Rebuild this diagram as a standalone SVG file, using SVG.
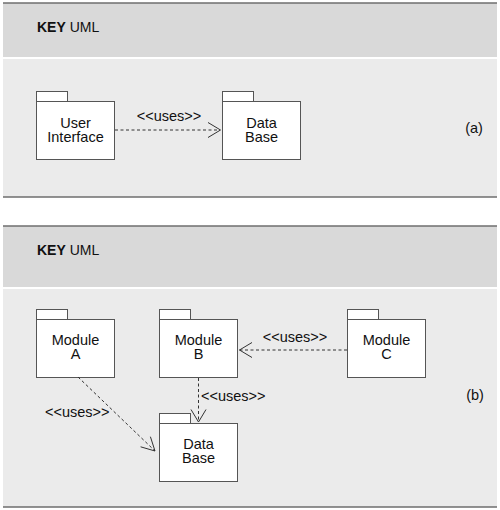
<svg xmlns="http://www.w3.org/2000/svg" width="500" height="510" viewBox="0 0 500 510">
  <style>
    .hdr { fill: #d9d9d9; }
    .body { fill: #ebebeb; }
    .edge { stroke: #6e6e6e; stroke-width: 1.5; }
    .pkg { fill: #ffffff; stroke: #555555; stroke-width: 1; }
    .lbl { font-family: "Liberation Sans", Arial, sans-serif; font-size: 14.5px; fill: #111111; text-anchor: middle; }
    .key { font-family: "Liberation Sans", Arial, sans-serif; font-size: 14px; fill: #111111; }
    .uses { font-family: "Liberation Sans", Arial, sans-serif; font-size: 14.5px; fill: #111111; }
    .dep { fill: none; stroke: #333333; stroke-width: 1; stroke-dasharray: 3 2.5; }
    .head { fill: none; stroke: #333333; stroke-width: 1; }
  </style>

  <rect x="0" y="0" width="500" height="510" fill="#ffffff"/>

  <!-- Panel (a) -->
  <g id="panel-a">
    <rect class="hdr" x="3" y="3" width="494" height="54"/>
    <rect class="body" x="3" y="59" width="494" height="138"/>
    <line class="edge" x1="3" y1="3" x2="497" y2="3"/>
    <line class="edge" x1="3" y1="197" x2="497" y2="197"/>
    <text class="key" x="37" y="32"><tspan font-weight="bold">KEY</tspan> UML</text>
    <text class="lbl" x="474" y="133" font-size="13">(a)</text>
  </g>

  <!-- Panel (b) -->
  <g id="panel-b">
    <rect class="hdr" x="3" y="226" width="494" height="61"/>
    <rect class="body" x="3" y="289" width="494" height="218"/>
    <line class="edge" x1="3" y1="226" x2="497" y2="226"/>
    <line class="edge" x1="3" y1="507" x2="497" y2="507"/>
    <text class="key" x="37" y="255"><tspan font-weight="bold">KEY</tspan> UML</text>
    <text class="lbl" x="475" y="400" font-size="13">(b)</text>
  </g>

  <!-- Nodes (a) -->
  <g id="user-interface">
    <rect class="pkg" x="36.5" y="91.5" width="31" height="10"/>
    <rect class="pkg" x="36.5" y="101.5" width="78" height="58"/>
    <text class="lbl" x="75.5" y="128">User</text>
    <text class="lbl" x="75.5" y="142">Interface</text>
  </g>
  <g id="data-base-a">
    <rect class="pkg" x="222.5" y="91.5" width="31" height="10"/>
    <rect class="pkg" x="222.5" y="101.5" width="78" height="58"/>
    <text class="lbl" x="261.5" y="128">Data</text>
    <text class="lbl" x="261.5" y="142">Base</text>
  </g>

  <!-- Nodes (b) -->
  <g id="module-a">
    <rect class="pkg" x="36.5" y="309.5" width="31" height="10"/>
    <rect class="pkg" x="36.5" y="319.5" width="78" height="58"/>
    <text class="lbl" x="75.5" y="345">Module</text>
    <text class="lbl" x="75.5" y="359">A</text>
  </g>
  <g id="module-b">
    <rect class="pkg" x="159.5" y="309.5" width="31" height="10"/>
    <rect class="pkg" x="159.5" y="319.5" width="78" height="58"/>
    <text class="lbl" x="198.5" y="345">Module</text>
    <text class="lbl" x="198.5" y="359">B</text>
  </g>
  <g id="module-c">
    <rect class="pkg" x="347.5" y="309.5" width="31" height="10"/>
    <rect class="pkg" x="347.5" y="319.5" width="78" height="58"/>
    <text class="lbl" x="386.5" y="345">Module</text>
    <text class="lbl" x="386.5" y="359">C</text>
  </g>
  <g id="data-base-b">
    <rect class="pkg" x="159.5" y="413.5" width="31" height="10"/>
    <rect class="pkg" x="159.5" y="423.5" width="78" height="58"/>
    <text class="lbl" x="198.5" y="449">Data</text>
    <text class="lbl" x="198.5" y="463">Base</text>
  </g>

  <!-- Connectors -->
  <g id="connectors">
    <!-- UI -> DB (a) -->
    <line class="dep" x1="115" y1="130" x2="220" y2="130"/>
    <polyline class="head" points="208,122.5 220.5,130 208,137.5"/>
    <text class="uses" x="169" y="121" text-anchor="middle">&lt;&lt;uses&gt;&gt;</text>

    <!-- C -> B -->
    <line class="dep" x1="347" y1="350" x2="239" y2="350"/>
    <polyline class="head" points="252,342.5 239.5,350 252,357.5"/>
    <text class="uses" x="295" y="342" text-anchor="middle">&lt;&lt;uses&gt;&gt;</text>

    <!-- B -> DB -->
    <line class="dep" x1="198.5" y1="378" x2="198.5" y2="422"/>
    <polyline class="head" points="191,409.5 198.5,422 206,409.5"/>
    <text class="uses" x="201" y="401">&lt;&lt;uses&gt;&gt;</text>

    <!-- A -> DB -->
    <line class="dep" x1="78" y1="377" x2="155" y2="451"/>
    <polyline class="head" points="140.6,446.8 155,451 150.4,436.7"/>
    <text class="uses" x="45" y="417">&lt;&lt;uses&gt;&gt;</text>
  </g>
</svg>
